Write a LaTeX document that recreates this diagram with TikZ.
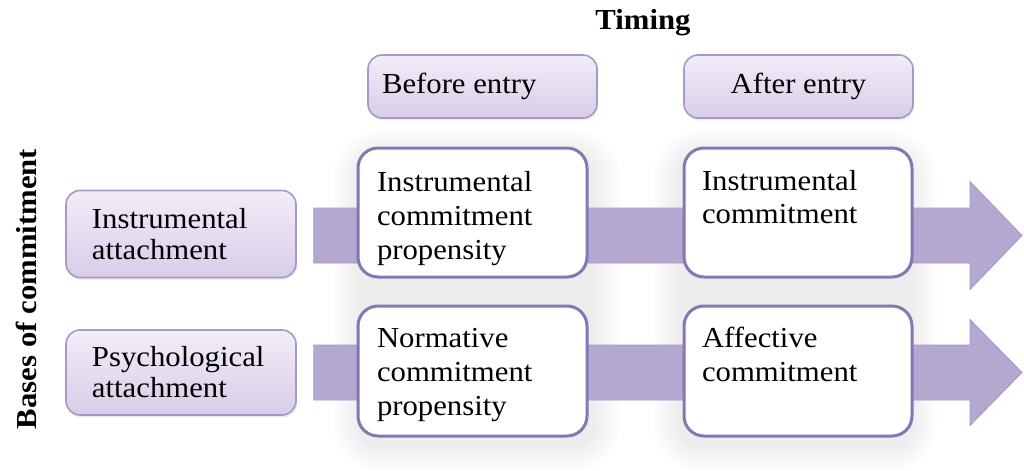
\documentclass[tikz,border=0pt]{standalone}
\usepackage{fontspec}
\setmainfont{Liberation Serif}[FakeStretch=1.06]
\usetikzlibrary{calc,shadows}
\definecolor{lavtop}{HTML}{F2EDF8}
\definecolor{lavbot}{HTML}{D8CDE8}
\definecolor{lavline}{HTML}{A898C6}
\definecolor{boxline}{HTML}{8776B3}
\definecolor{arrowfill}{HTML}{B4A7D0}
\definecolor{arrowline}{HTML}{A797C8}
\newcommand{\bxt}[5]{\parbox[c][#2][#3]{#1}{\raggedright\leftskip=#4\relax #5}}
\pgfdeclarelayer{back}
\pgfdeclarelayer{mid}
\pgfsetlayers{back,mid,main}
\tikzset{
  lavbox/.style={draw=lavline, line width=0.8pt, rounded corners=7pt,
    top color=lavtop, bottom color=lavbot, inner sep=0pt,
    drop shadow={opacity=0.15, shadow xshift=0.6pt, shadow yshift=-1.2pt}},
  whitebox/.style={draw=boxline, line width=1.5pt, rounded corners=10pt,
    fill=white, inner sep=0pt},
  title/.style={font=\fontsize{14.5}{17}\selectfont\bfseries, inner sep=0pt},
  bandarrow/.style={fill=arrowfill, draw=arrowline, line width=0.4pt},
  glow/.style={fill=black, fill opacity=0.009},
}
\begin{document}
\begin{tikzpicture}[x=0.5pt,y=-0.5pt,font=\fontsize{14.5}{17}\selectfont]
\useasboundingbox (0,0) rectangle (1024,471);

% titles
\node[title, anchor=base] (timing) at (643,30) {Timing};
\node[title, rotate=90, anchor=base] (bases) at (36,289) {Bases of commitment};

% timing headers
\node[lavbox] (before) at (482.5,86.5)
  {\bxt{114.5pt}{31.5pt}{c}{7pt}{Before entry}};
\node[lavbox] (after) at (798.5,86.5)
  {\parbox[c][31.5pt][c]{114.5pt}{\centering After entry}};

% bases
\node[lavbox] (ia) at (181,234)
  {\bxt{115pt}{43.5pt}{c}{13pt}{\baselineskip=15.5pt Instrumental\\attachment}};
\node[lavbox] (pa) at (181,372.5)
  {\bxt{115pt}{42.5pt}{c}{13pt}{\baselineskip=15.5pt Psychological\\attachment}};

% commitment boxes
\node[whitebox] (c11) at (472.5,212.5)
  {\bxt{114.5pt}{64.5pt}{t}{9.5pt}{\rule{0pt}{21.5pt}Instrumental\\commitment\\propensity}};
\node[whitebox] (c21) at (472.5,371)
  {\bxt{114.5pt}{65pt}{t}{9.5pt}{\rule{0pt}{20.5pt}Normative\\commitment\\propensity}};
\node[whitebox] (c12) at (798,212.5)
  {\bxt{114pt}{64.5pt}{t}{9pt}{\rule{0pt}{21pt}Instrumental\\commitment}};
\node[whitebox] (c22) at (798,371)
  {\bxt{114pt}{65pt}{t}{9pt}{\rule{0pt}{20.5pt}Affective\\commitment}};

% soft column backgrounds
\begin{pgfonlayer}{back}
  \foreach \xa/\xb in {341/612, 661/929} {
    \foreach \d in {-8,-5,...,16} {
      \fill[glow, rounded corners={max(4,20-\d*0.5)}]
        ({\xa+\d},{137+\d}) rectangle ({\xb-\d},{464-\d});
    }
  }
\end{pgfonlayer}

% band arrows
\coordinate (s1) at ($(ia.east)+(17,1.5)$);
\coordinate (t1) at (1022,235.5);
\coordinate (s2) at ($(pa.east)+(17,0)$);
\coordinate (t2) at (1022,372.5);
\begin{pgfonlayer}{mid}
  \draw[bandarrow] ($(s1)+(0,-27.5)$) -- ($(t1)+(-52,-27.5)$) -- ($(t1)+(-52,-54)$)
    -- (t1) -- ($(t1)+(-52,54)$) -- ($(t1)+(-52,27.5)$) -- ($(s1)+(0,27.5)$) -- cycle;
  \draw[bandarrow] ($(s2)+(0,-27.5)$) -- ($(t2)+(-52,-27.5)$) -- ($(t2)+(-52,-53)$)
    -- (t2) -- ($(t2)+(-52,53)$) -- ($(t2)+(-52,27.5)$) -- ($(s2)+(0,27.5)$) -- cycle;
\end{pgfonlayer}
\end{tikzpicture}
\end{document}
